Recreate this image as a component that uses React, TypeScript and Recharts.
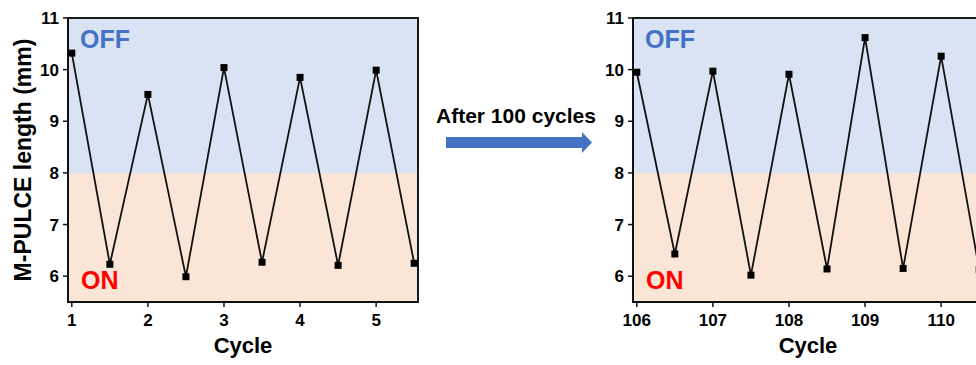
import { ComposedChart, Line, XAxis, YAxis, ReferenceArea } from 'recharts'

// cycle positions (half cycles = switched state) and measured length in mm
const leftCycles = [1, 1.5, 2, 2.5, 3, 3.5, 4, 4.5, 5, 5.5]
const leftLength = [10.32, 6.23, 9.52, 5.99, 10.04, 6.27, 9.85, 6.21, 9.99, 6.25]
const rightCycles = [106, 106.5, 107, 107.5, 108, 108.5, 109, 109.5, 110, 110.5]
const rightLength = [9.95, 6.43, 9.97, 6.02, 9.91, 6.14, 10.62, 6.15, 10.26, 6.13]

const leftTicks = [1, 2, 3, 4, 5]
const rightTicks = [106, 107, 108, 109, 110]
const lengthTicks = [6, 7, 8, 9, 10, 11]

const LENGTH_MIN = 5.5
const LENGTH_MAX = 11
const OFF_THRESHOLD = 8

const FONT = '"Liberation Sans", Arial, Helvetica, sans-serif'
const BLUE = '#4472c4'

const tickStyle = { fill: '#000', fontSize: 17, fontWeight: 700 }
const tickLine = { stroke: '#111', strokeWidth: 1.5 }
const axisLine = { stroke: '#111', strokeWidth: 2 }

function SquareDot(props: any) {
  const { cx, cy, index } = props
  if (cx == null || cy == null) return null
  return <rect key={`dot-${index}`} x={cx - 3.5} y={cy - 3.5} width={7} height={7} fill="#000" />
}

function YTitle(props: any) {
  const vb = props.viewBox || {}
  const x = (vb.x ?? 0) + 23
  const y = (vb.y ?? 0) + (vb.height ?? 0) / 2
  return (
    <text
      x={x}
      y={y}
      transform={`rotate(-90 ${x} ${y})`}
      textAnchor="middle"
      dominantBaseline="central"
      fontSize={23}
      fontWeight={700}
      fill="#000"
    >
      M-PULCE length (mm)
    </text>
  )
}

function XTitle(props: any) {
  const vb = props.viewBox || {}
  const x = (vb.x ?? 0) + (vb.width ?? 0) / 2
  return (
    <text x={x} y={353} textAnchor="middle" fontSize={22} fontWeight={700} fill="#000">
      Cycle
    </text>
  )
}

interface PanelProps {
  cycles: number[]
  lengths: number[]
  xTicks: number[]
  xDomain: [number, number]
  showYTitle?: boolean
}

function CyclePanel({ cycles, lengths, xTicks, xDomain, showYTitle }: PanelProps) {
  const data = cycles.map((c, i) => ({ cycle: c, length: lengths[i] }))
  return (
    <ComposedChart width={430} height={365} data={data} margin={{ top: 18, right: 12, bottom: 0, left: 0 }}>
      <XAxis
        dataKey="cycle"
        type="number"
        domain={xDomain}
        ticks={xTicks}
        allowDataOverflow
        height={63}
        tick={tickStyle}
        tickLine={tickLine}
        tickSize={5}
        tickMargin={7}
        axisLine={axisLine}
        label={<XTitle />}
      />
      <YAxis
        type="number"
        domain={[LENGTH_MIN, LENGTH_MAX]}
        ticks={lengthTicks}
        allowDataOverflow
        width={68}
        tick={tickStyle}
        tickLine={tickLine}
        tickSize={5}
        tickMargin={4}
        axisLine={axisLine}
        label={showYTitle ? <YTitle /> : undefined}
      />
      {/* OFF state band above threshold, ON state band below */}
      <ReferenceArea
        y1={OFF_THRESHOLD}
        y2={LENGTH_MAX}
        fill="#dae3f3"
        fillOpacity={1}
        stroke="none"
        label={{ value: 'OFF', position: 'insideTopLeft', offset: 12, fill: BLUE, fontSize: 25, fontWeight: 700 }}
      />
      <ReferenceArea
        y1={LENGTH_MIN}
        y2={OFF_THRESHOLD}
        fill="#fbe5d6"
        fillOpacity={1}
        stroke="none"
        label={{ value: 'ON', position: 'insideBottomLeft', offset: 13, fill: '#ff0000', fontSize: 25, fontWeight: 700 }}
      />
      {/* plot frame */}
      <ReferenceArea
        x1={xDomain[0]}
        x2={xDomain[1]}
        y1={LENGTH_MIN}
        y2={LENGTH_MAX}
        fill="none"
        stroke="#1a1a1a"
        strokeWidth={2}
      />
      <Line
        type="linear"
        dataKey="length"
        stroke="#111"
        strokeWidth={1.8}
        dot={SquareDot}
        activeDot={false}
        isAnimationActive={false}
      />
    </ComposedChart>
  )
}

export default function App() {
  return (
    <div
      style={{
        position: 'relative',
        width: 976,
        height: 365,
        overflow: 'hidden',
        background: '#fff',
        fontFamily: FONT,
      }}
    >
      <style>{'body{margin:0}'}</style>
      <div style={{ position: 'absolute', left: 0, top: 0 }}>
        <CyclePanel
          cycles={leftCycles}
          lengths={leftLength}
          xTicks={leftTicks}
          xDomain={[0.95, 5.55]}
          showYTitle
        />
      </div>
      <div style={{ position: 'absolute', left: 565, top: 0 }}>
        <CyclePanel
          cycles={rightCycles}
          lengths={rightLength}
          xTicks={rightTicks}
          xDomain={[105.95, 110.55]}
        />
      </div>
      {/* arrow between the two panels */}
      <svg width={976} height={365} style={{ position: 'absolute', left: 0, top: 0, pointerEvents: 'none' }}>
        <text x={516} y={123} textAnchor="middle" fontSize={21} fontWeight={700} fill="#000">
          After 100 cycles
        </text>
        <polygon
          points="446,137 582,137 582,132 592,142.5 582,153 582,148 446,148"
          fill={BLUE}
        />
      </svg>
    </div>
  )
}
